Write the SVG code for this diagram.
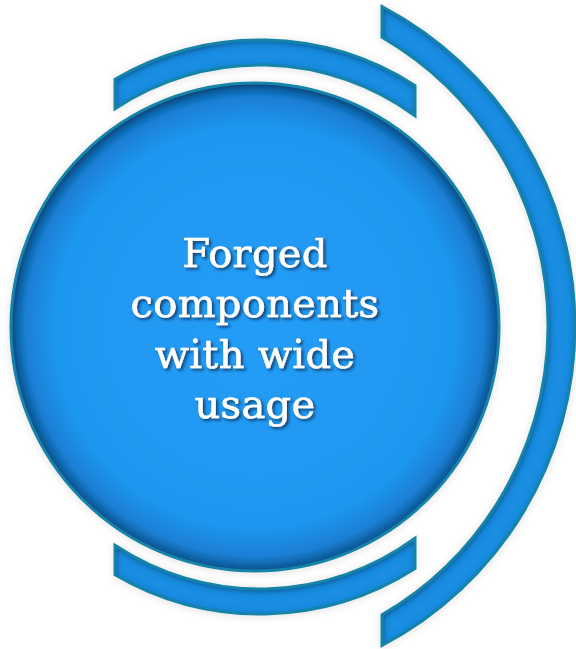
<svg xmlns="http://www.w3.org/2000/svg" width="576" height="649" viewBox="0 0 576 649">
  <defs>
    <radialGradient id="gCircle" cx="255" cy="327" r="244" gradientUnits="userSpaceOnUse">
      <stop offset="0" stop-color="#229DF7"/>
      <stop offset="0.82" stop-color="#1F97F0"/>
      <stop offset="0.94" stop-color="#1A7FD4"/>
      <stop offset="1" stop-color="#11558F"/>
    </radialGradient>
    <filter id="inset" x="-5%" y="-5%" width="110%" height="110%">
      <feFlood flood-color="#08356A" flood-opacity="1"/>
      <feComposite in2="SourceAlpha" operator="out"/>
      <feGaussianBlur stdDeviation="3.5"/>
      <feOffset dx="1" dy="1.5"/>
      <feComposite in2="SourceAlpha" operator="in"/>
      <feMerge>
        <feMergeNode in="SourceGraphic"/>
        <feMergeNode/>
      </feMerge>
    </filter>
    <filter id="outer" x="-10%" y="-10%" width="120%" height="120%">
      <feDropShadow dx="0" dy="1" stdDeviation="4" flood-color="#000" flood-opacity="0.12"/>
    </filter>
    <filter id="txt" x="-10%" y="-20%" width="120%" height="140%">
      <feDropShadow dx="2" dy="2" stdDeviation="1.4" flood-color="#082E55" flood-opacity="0.85"/>
    </filter>
  </defs>
  <style>
    .arc { fill: #1E8EE2; filter: url(#inset); }
    .edge { fill: none; stroke: #1984A8; stroke-width: 3; stroke-linejoin: miter; }
    .label { font-family: "DejaVu Serif", "Liberation Serif", serif; font-size: 40px; fill: #FFFFFF; stroke: #FFFFFF; stroke-width: 0.6; text-anchor: middle; letter-spacing: 0.3px; }
  </style>
  <rect width="576" height="649" fill="#FFFFFF"/>

  <g id="connectors"/>

  <g id="arc-right" filter="url(#outer)">
    <path class="arc" d="M382,6.5 A361,361 0 0 1 382,645.5 L382,614.7 A334,334 0 0 0 382,37.3 Z"/>
    <path class="edge" d="M382,6.5 A361,361 0 0 1 382,645.5 L382,614.7 A334,334 0 0 0 382,37.3 Z"/>
  </g>

  <g id="arc-top" filter="url(#outer)">
    <path class="arc" d="M115,79.3 A287,287 0 0 1 415,85.5 L415,115.8 A262,262 0 0 0 115,108.8 Z"/>
    <path class="edge" d="M115,79.3 A287,287 0 0 1 415,85.5 L415,115.8 A262,262 0 0 0 115,108.8 Z"/>
  </g>

  <g id="arc-bottom" filter="url(#outer)">
    <path class="arc" d="M115,574.7 A287,287 0 0 0 415,568.5 L415,538.2 A262,262 0 0 1 115,545.2 Z"/>
    <path class="edge" d="M115,574.7 A287,287 0 0 0 415,568.5 L415,538.2 A262,262 0 0 1 115,545.2 Z"/>
  </g>

  <g id="node-main" filter="url(#outer)">
    <circle cx="255" cy="327" r="244" fill="url(#gCircle)" filter="url(#inset)"/>
    <circle cx="255" cy="327" r="244" class="edge"/>
    <g filter="url(#txt)">
      <text class="label" x="255" y="267">Forged</text>
      <text class="label" x="255" y="317">components</text>
      <text class="label" x="255" y="368">with wide</text>
      <text class="label" x="255" y="418">usage</text>
    </g>
  </g>
</svg>
